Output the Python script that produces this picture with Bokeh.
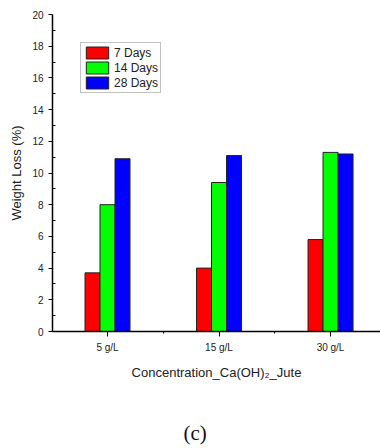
from bokeh.plotting import figure
from bokeh.models import Range1d, FixedTicker, Title
from bokeh.embed import file_html
from bokeh.resources import INLINE

categories = ["5 g/L", "15 g/L", "30 g/L"]
positions = [1, 2, 3]
days7 = [3.7, 4.0, 5.8]
days14 = [8.0, 9.4, 11.3]
days28 = [10.9, 11.1, 11.2]
series_names = ["7 Days", "14 Days", "28 Days"]
y_ticks = [0, 2, 4, 6, 8, 10, 12, 14, 16, 18, 20]

FONT = "Liberation Sans"
W, H = 380, 448

p = figure(width=W, height=H, output_backend="svg", toolbar_location=None,
           x_range=Range1d(0.5067, 3.448), y_range=Range1d(0, 20),
           min_border_left=52, min_border_right=0, min_border_top=14,
           min_border_bottom=117)
p.outline_line_color = None
p.xgrid.visible = False
p.ygrid.visible = False
p.background_fill_color = "white"
p.border_fill_color = "white"

bw = 0.1345
colors = ["#FF0000", "#00FF00", "#0000FF"]
offsets = [-bw, 0, bw]
for vals, name, col, off in zip([days7, days14, days28], series_names, colors, offsets):
    p.vbar(x=[x + off for x in positions], top=vals, width=bw, bottom=0,
           fill_color=col, line_color="#222222", line_width=1, legend_label=name)

# axes
p.xaxis.ticker = FixedTicker(ticks=positions, minor_ticks=[1.5, 2.5])
p.xaxis.major_label_overrides = {pos: c for pos, c in zip(positions, categories)}
p.yaxis.ticker = FixedTicker(ticks=y_ticks, minor_ticks=list(range(1, 20, 2)))

for ax in (p.xaxis[0], p.yaxis[0]):
    ax.axis_line_color = "black"
    ax.axis_line_width = 1.5
    ax.major_tick_line_color = "black"
    ax.minor_tick_line_color = "black"
    ax.major_label_text_font = FONT
    ax.major_label_text_font_size = "10px"
    ax.major_label_text_color = "#222222"
    ax.axis_label_text_font = FONT
    ax.axis_label_text_font_size = "13px"
    ax.axis_label_text_font_style = "normal"
    ax.axis_label_text_color = "#222222"

p.yaxis.major_tick_out = 4
p.yaxis.major_tick_in = 0
p.yaxis.minor_tick_out = 0
p.yaxis.minor_tick_in = 3
p.yaxis.axis_label = "Weight Loss (%)"
p.yaxis.axis_label_standoff = 5

p.xaxis.major_tick_out = 5
p.xaxis.major_tick_in = 0
p.xaxis.minor_tick_out = 2
p.xaxis.minor_tick_in = 0
p.xaxis.axis_label = "Concentration_Ca(OH)\u2082_Jute"
p.xaxis.axis_label_standoff = 9

# legend
lg = p.legend[0]
lg.location = "top_left"
lg.margin = 28
lg.padding = 2
lg.spacing = 0
lg.glyph_width = 28
lg.glyph_height = 15
lg.label_height = 15
lg.label_standoff = 3
lg.label_text_font = FONT
lg.label_text_font_size = "12px"
lg.label_text_color = "#222222"
lg.border_line_color = "#888888"
lg.border_line_width = 1
lg.background_fill_color = "white"
lg.background_fill_alpha = 1

# panel caption (leading blank line pushes it toward the bottom)
cap = Title(text="\n(c)", align="left", offset=131, standoff=0,
            vertical_align="bottom", text_line_height=1.5,
            text_font="Liberation Serif", text_font_size="21px",
            text_font_style="normal", text_color="#111111")
p.add_layout(cap, "below")

open("out.html", "w").write(file_html(p, INLINE))
